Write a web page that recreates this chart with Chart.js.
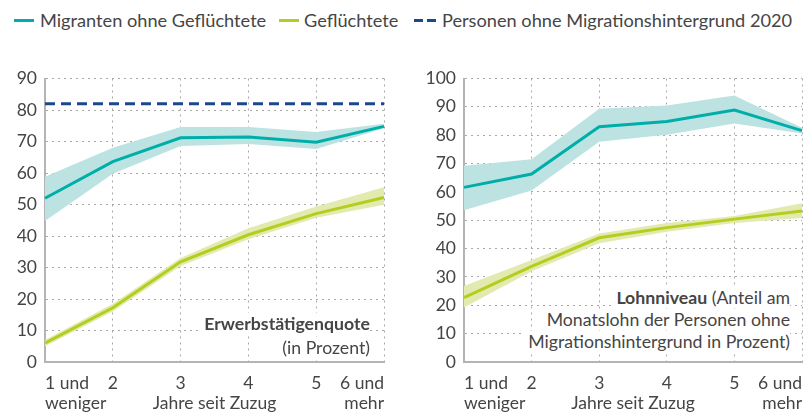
<!DOCTYPE html>
<html>
<head>
<meta charset="utf-8">
<script src="https://cdn.jsdelivr.net/npm/chart.js@4.4.1/dist/chart.umd.min.js"></script>
<style>
  body { margin: 0; width: 804px; height: 414px; overflow: hidden; background: #fff; font-family: Lato, sans-serif; color: #454545; }
  .box { position: absolute; }
  .legend { position: absolute; top: 9px; font-size: 18.2px; line-height: 22px; white-space: nowrap; }
  .mark { position: absolute; top: 19px; height: 3px; width: 20px; }
  .note { position: absolute; text-align: right; font-size: 17.7px; line-height: 22px; white-space: nowrap; }
  .note span { background: #fff; padding-left: 3px; }
</style>
</head>
<body>

<div class="mark" style="left:14px;background:#00aea9"></div>
<div class="legend" style="left:40px">Migranten ohne Geflüchtete</div>
<div class="mark" style="left:279px;background:#b5cd1f"></div>
<div class="legend" style="left:304px">Geflüchtete</div>
<div class="mark" style="left:414px;width:22px;background:repeating-linear-gradient(90deg,#1b4a8a 0 9px,transparent 9px 13px)"></div>
<div class="legend" style="left:442px">Personen ohne Migrationshintergrund 2020</div>

<div class="box" style="left:0;top:60px;width:395px;height:354px"><canvas id="chart-quote"></canvas></div>
<div class="box" style="left:400px;top:60px;width:404px;height:354px"><canvas id="chart-lohn"></canvas></div>

<div class="note" style="right:434px;top:312px;line-height:24px">
  <span><b>Erwerbstätigenquote</b></span><br><span>(in Prozent)</span>
</div>
<div class="note" style="right:14px;top:287px">
  <span><b>Lohnniveau</b> (Anteil am</span><br><span>Monatslohn der Personen ohne</span><br><span>Migrationshintergrund in Prozent)</span>
</div>

<script>
// ---- data ----
const xLabels = [['1 und', 'weniger'], ['2'], ['3'], ['4'], ['5'], ['6 und', 'mehr']];
const xTitle = 'Jahre seit Zuzug';

// Erwerbstätigenquote
const quoteMigranten     = [52, 63.6, 71.2, 71.4, 69.8, 74.8];
const quoteMigrantenLow  = [44.8, 59.8, 68.6, 69.2, 67.6, 74.2];
const quoteMigrantenHigh = [58.8, 68, 74.6, 74.6, 73, 75.6];
const quoteGefluechtete     = [6, 17.2, 31.8, 40.4, 47.1, 52.2];
const quoteGefluechteteLow  = [5, 16, 30.5, 39, 45.8, 49.9];
const quoteGefluechteteHigh = [7, 18.5, 33, 42.5, 49.4, 55.5];
const quoteReferenz = [82, 82, 82, 82, 82, 82];

// Lohnniveau
const lohnMigranten     = [61.6, 66.3, 83, 84.8, 88.9, 81.6];
const lohnMigrantenLow  = [53.5, 60.5, 77.7, 80.2, 84.1, 80.6];
const lohnMigrantenHigh = [69.2, 71.5, 89.3, 90.5, 94, 82.6];
const lohnGefluechtete     = [22.7, 33.7, 43.8, 47.4, 50.4, 53.3];
const lohnGefluechteteLow  = [19.2, 32, 41.9, 45.9, 49, 50.8];
const lohnGefluechteteHigh = [26.8, 36, 45.3, 49, 51.5, 56];

const TEAL = '#00aea9', TEAL_BAND = '#bce3e1';
const GREEN = '#b5cd1f', GREEN_BAND = '#e2eaaf';
const NAVY = '#1b4a8a';
const FONT = 'Lato, sans-serif';

// x labels drawn per tick so first/last can be aligned to the edges
const xLabelPlugin = {
  id: 'xLabels',
  afterDraw(chart) {
    const { ctx, chartArea } = chart;
    const x = chart.scales.x;
    ctx.save();
    ctx.font = '17.5px ' + FONT;
    ctx.fillStyle = '#454545';
    ctx.textBaseline = 'middle';
    xLabels.forEach((lines, i) => {
      const px = x.getPixelForValue(i);
      ctx.textAlign = i === 0 ? 'left' : (i === xLabels.length - 1 ? 'right' : 'center');
      lines.forEach((t, j) => ctx.fillText(t, px, chartArea.bottom + 21 + j * 20));
    });
    ctx.textAlign = 'center';
    ctx.fillText(xTitle, (chartArea.left + chartArea.right) / 2, chartArea.bottom + 41);
    ctx.restore();
  }
};

function line(data, color, extra) {
  return Object.assign({ data, borderColor: color, borderWidth: 3, pointRadius: 0, tension: 0, fill: false }, extra || {});
}
function band(low, high, color, idx) {
  return [
    { data: low, borderWidth: 0, pointRadius: 0, fill: false },
    { data: high, borderWidth: 0, pointRadius: 0, backgroundColor: color, fill: { target: idx } },
  ];
}

function buildChart(id, yMax, datasets, yWidth, pad) {
  const ctx = document.getElementById(id).getContext('2d');
  return new Chart(ctx, {
    type: 'line',
    data: { labels: xLabels.map(l => l.join(' ')), datasets },
    plugins: [xLabelPlugin],
    options: {
      responsive: true,
      maintainAspectRatio: false,
      animation: false,
      layout: { padding: pad },
      plugins: { legend: { display: false }, tooltip: { enabled: false } },
      scales: {
        x: {
          ticks: { display: false },
          grid: { color: '#a8a8a8', lineWidth: 1, drawTicks: false },
          border: { display: true, color: '#b4b4b4', width: 2, dash: [2, 4] },
          afterFit: s => { s.height = 52; },
        },
        y: {
          min: 0, max: yMax,
          ticks: { stepSize: 10, color: '#454545', font: { family: FONT, size: 17.5 }, padding: 8 },
          grid: { color: '#a8a8a8', lineWidth: 1, drawTicks: false },
          border: { display: true, color: '#b4b4b4', width: 2, dash: [2, 4] },
          afterFit: s => { s.width = yWidth; },
        },
      },
    },
  });
}

buildChart('chart-quote', 90, [
  line(quoteMigranten, TEAL),
  line(quoteGefluechtete, GREEN),
  line(quoteReferenz, NAVY, { borderDash: [10, 6] }),
  ...band(quoteMigrantenLow, quoteMigrantenHigh, TEAL_BAND, 3),
  ...band(quoteGefluechteteLow, quoteGefluechteteHigh, GREEN_BAND, 5),
], 45, { top: 13, right: 11 });

buildChart('chart-lohn', 100, [
  line(lohnMigranten, TEAL),
  line(lohnGefluechtete, GREEN),
  ...band(lohnMigrantenLow, lohnMigrantenHigh, TEAL_BAND, 2),
  ...band(lohnGefluechteteLow, lohnGefluechteteHigh, GREEN_BAND, 4),
], 64, { top: 15, right: 2 });
</script>
</body>
</html>
